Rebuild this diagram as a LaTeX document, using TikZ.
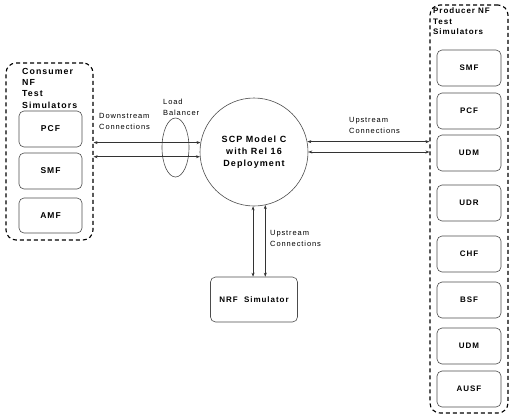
\documentclass[tikz,border=0pt]{standalone}
\usepackage{fontspec}
\setmainfont{Liberation Sans}[LetterSpace=12]
\usetikzlibrary{shapes.geometric,arrows.meta}

\tikzset{
  simbox/.style={draw=black!70, line width=0.6pt, rounded corners=5pt,
    minimum width=63pt, minimum height=36pt, inner sep=0pt,
    font=\fontsize{8}{9}\selectfont\bfseries},
  groupbox/.style={draw, line width=1.1pt, dash pattern=on 4pt off 3pt,
    rounded corners=10pt, inner sep=0pt},
  conn/.style={<->, draw=black!80, line width=0.6pt,
    >={Stealth[length=4pt,width=3pt]}},
  note/.style={align=left, inner sep=0pt,
    font=\fontsize{7.5}{11}\selectfont},
  grouplabel/.style={align=left, inner sep=0pt,
    font=\fontsize{8.8}{11.3}\selectfont\bfseries}
}

\begin{document}
\begin{tikzpicture}[x=1pt, y=1pt]
    \useasboundingbox (0,0) rectangle (513,-418);

    % Consumer side
    \node[groupbox, minimum width=87pt, minimum height=177pt] (cons) at (49.5,-151.5) {};
    \node[grouplabel, anchor=north west] (conslbl) at (22,-68) {Consumer\\NF\\Test\\Simulators};
    \node[simbox, font=\fontsize{8.5}{10}\selectfont\bfseries] (cpcf) at (50.5,-129) {PCF};
    \node[simbox, font=\fontsize{8.5}{10}\selectfont\bfseries] (csmf) at (50.5,-171) {SMF};
    \node[simbox, minimum height=35pt, font=\fontsize{8.5}{10}\selectfont\bfseries] (camf) at (50.5,-215.5) {AMF};

    % Producer side
    \node[groupbox, minimum width=78pt, minimum height=408pt] (prod) at (469,-209) {};
    \node[grouplabel, anchor=north west, font=\fontsize{8}{10.5}\selectfont\bfseries] (prodlbl) at (433,-8) {Producer NF\\Test\\Simulators};
    \foreach \name/\y/\txt in {psmf/68/SMF, ppcf/111/PCF, pudm/153/UDM, pudr/203/UDR,
                               pchf/254/CHF, pbsf/300/BSF, pudmb/346/UDM, pausf/389/AUSF} {
        \node[simbox, minimum width=64pt] (\name) at (469,-\y) {\txt};
    }

    % SCP in the middle
    \node[circle, draw=black!70, line width=0.6pt, minimum size=108pt, inner sep=0pt,
          align=center, font=\fontsize{9}{12}\selectfont\bfseries] (scp) at (254,-152)
          {SCP Model C\\with Rel 16\\Deployment};

    % Load balancer
    \node[ellipse, draw=black!70, line width=0.6pt, minimum width=27pt, minimum height=59pt] (lb) at (175.5,-147.5) {};
    \node[note, anchor=north west] (lblbl) at (163,-99) {Load\\Balancer};

    % NRF
    \node[simbox, minimum width=87pt, minimum height=45pt] (nrf) at (254,-299.5) {NRF\ \ Simulator};

    % Downstream connections
    \draw[conn] (cons.east |- scp.170) -- (scp.170);
    \draw[conn] (cons.east |- scp.185) -- (scp.185);
    \node[note, anchor=north west] (dnlbl) at (99,-113) {Downstream\\Connections};

    % Upstream connections to producers
    \draw[conn] (scp.11) -- (scp.11 -| prod.west);
    \draw[conn] (scp.east) -- (scp.east -| prod.west);
    \node[note, anchor=north west] (uplbl) at (349,-117) {Upstream\\Connections};

    % Upstream connections to NRF
    \draw[conn] (scp.269) -- (scp.269 |- nrf.north);
    \draw[conn] (scp.282) -- (scp.282 |- nrf.north);
    \node[note, anchor=north west] (nrflbl) at (270,-230) {Upstream\\Connections};
\end{tikzpicture}
\end{document}
